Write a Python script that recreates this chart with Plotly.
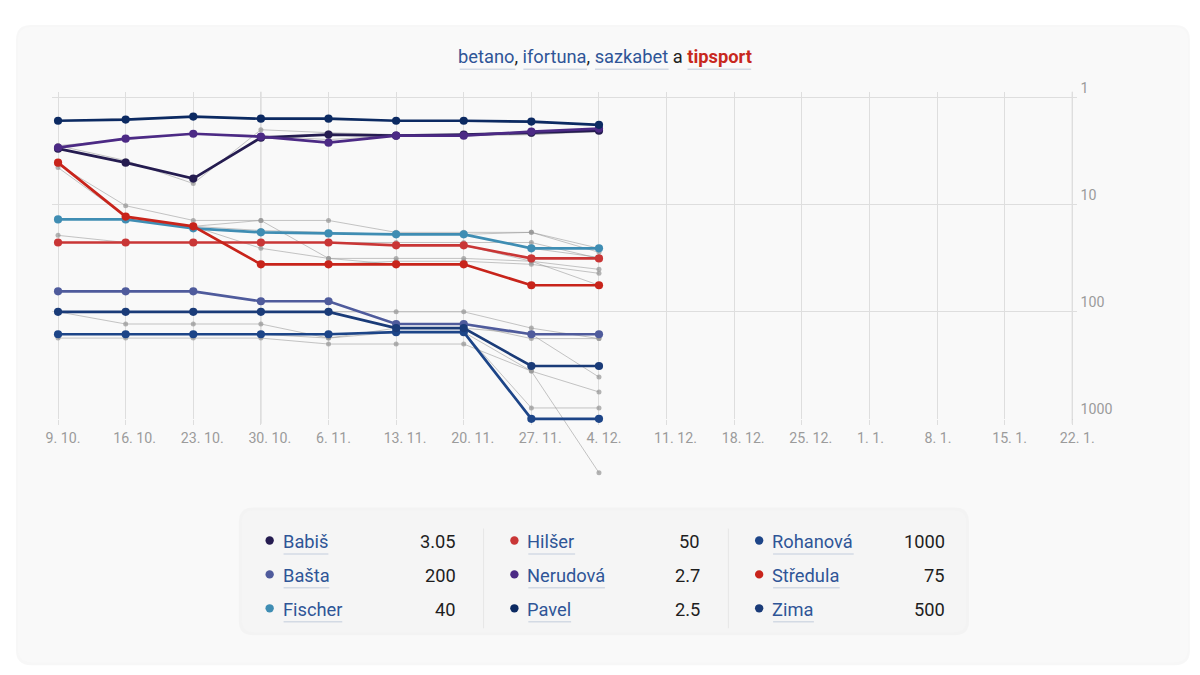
import plotly.graph_objects as go

W, H = 1200, 675
# the captured page ends up slightly shrunk and pushed down; positions below are
# measured on the target picture, so they are mapped back through this
S, OY = 0.985, 10

# --- data -------------------------------------------------------------------
dates = ["2022-10-09", "2022-10-16", "2022-10-23", "2022-10-30", "2022-11-06",
         "2022-11-13", "2022-11-20", "2022-11-27", "2022-12-04"]

candidates = ["Babiš", "Bašta", "Fischer", "Hilšer", "Nerudová",
              "Pavel", "Rohanová", "Středula", "Zima"]
current_odds = [3.05, 200, 40, 50, 2.7, 2.5, 1000, 75, 500]
colors = ["#251c50", "#4f5b9c", "#3f8db3", "#c93636", "#4c2a85",
          "#0c2a62", "#1d4588", "#c8241b", "#1a3b78"]

# averaged odds (thick lines)
babis = [2.99, 4.04, 5.69, 2.36, 2.21, 2.26, 2.21, 2.12, 2.03]
basta = [64.3, 64.3, 64.3, 79.7, 79.7, 130, 130, 162, 162]
fischer = [13.7, 13.7, 16.6, 18.1, 18.5, 18.9, 18.9, 25.5, 25.5]
hilser = [22.5, 22.5, 22.5, 22.5, 22.5, 23.9, 23.9, 31.7, 31.7]
nerudova = [2.92, 2.41, 2.17, 2.31, 2.63, 2.26, 2.26, 2.07, 1.94]
pavel = [1.64, 1.60, 1.50, 1.57, 1.57, 1.64, 1.64, 1.67, 1.79]
rohanova = [162, 162, 162, 162, 162, 155, 155, 1000, 1000]
stredula = [4.04, 12.9, 15.9, 36.0, 36.0, 36.0, 36.0, 56.5, 56.5]
zima = [100, 100, 100, 100, 100, 142, 142, 321, 321]
series = [babis, basta, fischer, hilser, nerudova, pavel, rohanova, stredula, zima]

# single bookmakers (thin grey lines)
bookie_lines = [
    [4.21, 10.2, 14.0, 14.0, 14.0, 18.1, 18.1, 18.1, 27.8],
    [4.49, 12.9, 15.9, 25.5, 31.7, 31.7, 31.7, 33.7, 56.5],
    [4.04, 12.9, 15.9, 14.0, 31.7, 36.0, 36.0, 56.5, 56.5],
    [13.7, 13.7, 16.6, 18.1, 18.5, 18.9, 18.9, 18.1, 25.5],
    [13.7, 13.7, 15.9, 17.4, 18.1, 18.9, 18.9, 25.5, 31.0],
    [19.3, 22.5, 22.5, 22.5, 22.5, 23.9, 23.9, 33.7, 40.1],
    [22.5, 22.5, 22.5, 22.5, 22.5, 22.5, 22.5, 22.5, 31.7],
    [4.04, 12.9, 15.9, 36.0, 36.0, 33.7, 33.7, 36.0, 43.7],
    [2.80, 3.86, 6.33, 1.99, 2.12, 2.21, 2.21, 2.21, 2.07],
    [2.80, 2.46, 2.17, 2.26, 2.46, 2.26, 2.26, 2.21, 2.03],
    [1.64, 1.57, 1.50, 1.60, 1.60, 1.64, 1.64, 1.71, 1.79],
    [64.3, 64.3, 64.3, 79.7, 79.7, 130, 130, 178, 178],
    [100, 100, 100, 100, 100, 100, 100, 142, 178],
    [100, 100, 100, 100, 100, 142, 142, 162, 407],
    [162, 162, 162, 162, 176, 155, 155, 358, 561],
    [176, 176, 176, 176, 200, 200, 200, 358, 3190],
    [162, 162, 162, 162, 162, 155, 155, 791, 791],
    [100, 130, 130, 130, 176, 142, 142, 321, 321],
]


# --- helpers (target pixel -> paper) ---------------------------------------
def px(x):
    return x / (W * S)


def py(y):
    return 1 - (y - OY) / (H * S)


def rrect(x0, y0, x1, y1, r):
    pts = [
        f"M {px(x0 + r)},{py(y0)}", f"L {px(x1 - r)},{py(y0)}",
        f"Q {px(x1)},{py(y0)} {px(x1)},{py(y0 + r)}", f"L {px(x1)},{py(y1 - r)}",
        f"Q {px(x1)},{py(y1)} {px(x1 - r)},{py(y1)}", f"L {px(x0 + r)},{py(y1)}",
        f"Q {px(x0)},{py(y1)} {px(x0)},{py(y1 - r)}", f"L {px(x0)},{py(y0 + r)}",
        f"Q {px(x0)},{py(y0)} {px(x0 + r)},{py(y0)}", "Z",
    ]
    return " ".join(pts)


PLOT_L, PLOT_R, PLOT_T, PLOT_B, DATA_B = 46, 1076, 90, 418, 490
DECADE = 107.33
y_top = -(96 - PLOT_T) / DECADE
x_range = ["2022-10-08 08:24", "2023-01-22 10:34"]
FONT = "Roboto"
GRID = "#dedede"
LINK = "#2f5597"
TXT = 18.3

fig = go.Figure()

# empty trace so the axes subplot exists
fig.add_trace(go.Scatter(x=[], y=[], xaxis="x", yaxis="y", showlegend=False))

for vals in bookie_lines:
    fig.add_trace(go.Scatter(
        x=dates, y=vals, mode="lines+markers", xaxis="x2", yaxis="y2",
        line=dict(color="rgba(150,150,150,0.55)", width=1),
        marker=dict(size=5, color="rgba(150,150,150,0.7)"),
        cliponaxis=False, hoverinfo="skip", showlegend=False))

for name, vals, col in zip(candidates, series, colors):
    fig.add_trace(go.Scatter(
        x=dates, y=vals, mode="lines+markers", name=name, xaxis="x2", yaxis="y2",
        line=dict(color=col, width=2.7), marker=dict(size=8.2, color=col),
        cliponaxis=False, showlegend=False))

shapes = [
    dict(type="path", path=rrect(10, 23, 1190, 665, 15), xref="paper", yref="paper",
         fillcolor="rgba(0,0,0,0.03)", line_width=0, layer="below"),
    dict(type="path", path=rrect(12, 25, 1188, 662, 14), xref="paper", yref="paper",
         fillcolor="#f9f9f9", line_width=0, layer="below"),
    dict(type="path", path=rrect(234, 507, 968, 635, 14), xref="paper", yref="paper",
         fillcolor="rgba(0,0,0,0.025)", line_width=0, layer="below"),
    dict(type="path", path=rrect(237, 510, 965, 632, 12), xref="paper", yref="paper",
         fillcolor="#f5f5f5", line_width=0, layer="below"),
]
for d in ["2022-10-30", "2023-01-22"]:
    shapes.append(dict(type="line", xref="x", yref="paper", x0=d, x1=d,
                       y0=py(PLOT_B + 5), y1=py(PLOT_T), line=dict(color="#c9c9c9", width=1),
                       layer="below"))

# title with link-like underlines
title_spans = [(456, 512), (520, 584), (592, 666), (685, 749)]
for x0, x1 in title_spans:
    shapes.append(dict(type="line", xref="paper", yref="paper", x0=px(x0), x1=px(x1),
                       y0=py(67.5), y1=py(67.5), line=dict(color="#d3dae4", width=1.5)))

annotations = [dict(
    x=px(602.5), y=py(55), xref="paper", yref="paper", showarrow=False,
    xanchor="center", yanchor="middle", font=dict(family=FONT, size=TXT, color="#222"),
    text=(f"<span style='color:{LINK}'>betano</span>, "
          f"<span style='color:{LINK}'>ifortuna</span>, "
          f"<span style='color:{LINK}'>sazkabet</span> a "
          f"<b><span style='color:#c8281e'>tipsport</span></b>"))]

# custom legend table
dot_x = [265, 511, 757]
val_x = [452, 698, 944]
row_y = [541, 575, 609]
underline_w = [45, 46, 59, 47, 77, 43, 81, 67, 41]
for i, (name, odd, col) in enumerate(zip(candidates, current_odds, colors)):
    c, r = i // 3, i % 3
    dx, dy = dot_x[c], row_y[r]
    shapes.append(dict(type="circle", xref="paper", yref="paper",
                       x0=px(dx - 4.2), x1=px(dx + 4.2), y0=py(dy - 5.2), y1=py(dy + 3.2),
                       fillcolor=col, line_width=0))
    nx = dx + 14
    annotations.append(dict(x=px(nx - 3), y=py(dy), xref="paper", yref="paper", showarrow=False,
                            xanchor="left", yanchor="middle", text=name,
                            font=dict(family=FONT, size=TXT, color=LINK)))
    shapes.append(dict(type="line", xref="paper", yref="paper", x0=px(nx), x1=px(nx + underline_w[i]),
                       y0=py(dy + 12.5), y1=py(dy + 12.5), line=dict(color="#d3dae4", width=1.5)))
    annotations.append(dict(x=px(val_x[c] + 2), y=py(dy), xref="paper", yref="paper", showarrow=False,
                            xanchor="right", yanchor="middle", text=f"{odd:g}",
                            font=dict(family=FONT, size=TXT, color="#1e1e1e")))
for x in [480, 726]:
    shapes.append(dict(type="line", xref="paper", yref="paper", x0=px(x), x1=px(x),
                       y0=py(528), y1=py(628), line=dict(color="#e6e6e6", width=1)))

fig.update_layout(
    autosize=True,
    margin=dict(l=0, r=0, t=0, b=0),
    paper_bgcolor="#ffffff", plot_bgcolor="rgba(0,0,0,0)",
    font=dict(family=FONT),
    shapes=shapes, annotations=annotations,
    xaxis=dict(type="date", domain=[px(PLOT_L), px(PLOT_R)], range=x_range,
               tickmode="linear", tick0="2022-10-09", dtick=7 * 86400000,
               tickformat="%-d. %-m.", showgrid=True, gridcolor=GRID, gridwidth=1,
               ticks="outside", ticklen=5, tickcolor=GRID, showline=False, zeroline=False,
               ticklabelposition="outside right", ticklabelshift=-13, ticklabelstandoff=6,
               tickfont=dict(family=FONT, size=14.2, color="#9b9b9b"), anchor="y"),
    yaxis=dict(type="log", domain=[py(PLOT_B), py(PLOT_T)], range=[3, y_top],
               side="right", tickvals=[1, 10, 100, 1000], ticktext=["1", "10", "100", "1000"],
               ticklabelposition="outside top", showgrid=True, gridcolor=GRID, gridwidth=1,
               zeroline=False, showline=False, ticks="", ticklabelstandoff=3,
               tickfont=dict(family=FONT, size=14.2, color="#9b9b9b"), anchor="x"),
    xaxis2=dict(type="date", domain=[px(PLOT_L), px(PLOT_R)], range=x_range,
                visible=False, anchor="y2"),
    yaxis2=dict(type="log", domain=[py(DATA_B), py(PLOT_T)],
                range=[3 + (DATA_B - PLOT_B) / DECADE, y_top], visible=False, anchor="x2"),
)

fig.write_html("out.html", config={"displayModeBar": False, "responsive": True},
               default_width="100vw", default_height="100vh",
               post_script="document.body.style.margin='0';document.body.style.overflow='hidden';")
